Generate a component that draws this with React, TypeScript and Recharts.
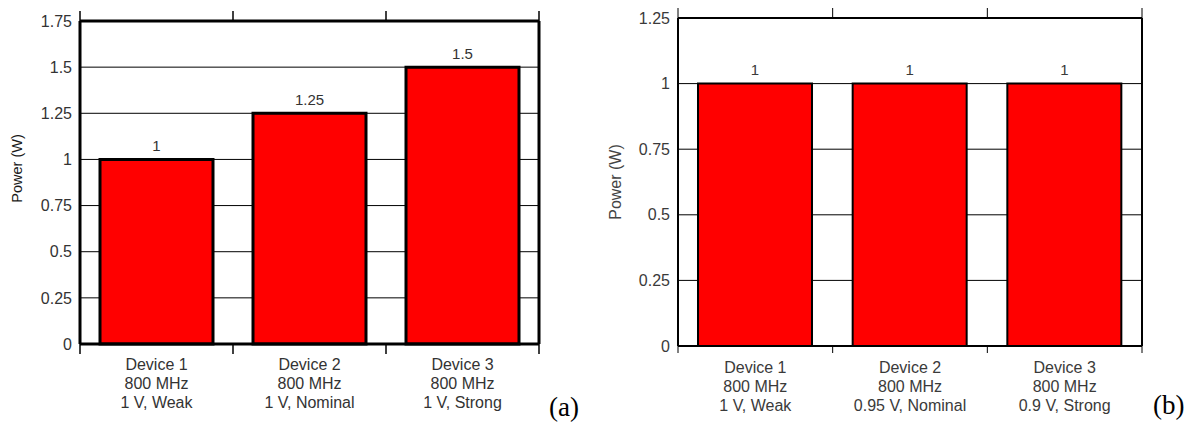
import React from 'react';
import { BarChart, Bar, XAxis, YAxis, CartesianGrid, LabelList } from 'recharts';

const devices = ['Device 1', 'Device 2', 'Device 3'];
const frequencies = ['800 MHz', '800 MHz', '800 MHz'];
const conditionsA = ['1 V, Weak', '1 V, Nominal', '1 V, Strong'];
const conditionsB = ['1 V, Weak', '0.95 V, Nominal', '0.9 V, Strong'];
const powerA = [1, 1.25, 1.5];
const powerB = [1, 1, 1];
const yTicksA = [0, 0.25, 0.5, 0.75, 1, 1.25, 1.5, 1.75];
const yTicksB = [0, 0.25, 0.5, 0.75, 1, 1.25];
const panelLabels = ['(a)', '(b)'];
const yLabel = 'Power (W)';

const buildData = (conds: string[], power: number[]) =>
  devices.map((d, i) => ({ pos: i + 0.5, device: d, freq: frequencies[i], cond: conds[i], power: power[i] }));

const dataA = buildData(conditionsA, powerA);
const dataB = buildData(conditionsB, powerB);

const n = devices.length;
const bottomTicks: number[] = [];
for (let k = 0; k <= 2 * n; k++) bottomTicks.push(k / 2);
const boundaryTicks: number[] = [];
for (let k = 0; k <= n; k++) boundaryTicks.push(k);

const FONT = "'Liberation Sans', Arial, Helvetica, sans-serif";

const makeBottomTick = (data: any[], tickLen: number, lineWidth: number, color: string, firstDy: number, gap: number) =>
  (props: any) => {
    const { x, y, payload } = props;
    const v = payload.value;
    if (Number.isInteger(v)) {
      return <line x1={x} y1={y} x2={x} y2={y + tickLen} stroke="#000" strokeWidth={lineWidth} />;
    }
    const row = data[Math.floor(v)];
    const lines = [row.device, row.freq, row.cond];
    return (
      <text x={x} y={y} textAnchor="middle" fill={color} fontSize={16} fontFamily={FONT}>
        {lines.map((t, k) => (
          <tspan key={k} x={x} dy={k === 0 ? firstDy : gap}>{t}</tspan>
        ))}
      </text>
    );
  };

const makeYLabel = (xPos: number, shift: number, size: number, color: string) => (props: any) => {
  const vb = props.viewBox || {};
  const cy = (vb.y || 0) + (vb.height || 0) / 2 + shift;
  return (
    <text x={xPos} y={cy} transform={`rotate(-90 ${xPos} ${cy})`} textAnchor="middle" dominantBaseline="central" fill={color} fontSize={size} fontFamily={FONT}>
      {yLabel}
    </text>
  );
};

interface PanelProps {
  data: any[];
  ticks: number[];
  width: number;
  height: number;
  left: number;
  yAxisWidth: number;
  rightWidth: number;
  topHeight: number;
  bottomHeight: number;
  frameWidth: number;
  barStroke: number;
  barSize: number;
  textColor: string;
  tickLenTop: number;
  tickLenBottom: number;
  tickLineWidth: number;
  firstDy: number;
  gap: number;
  labelOffset: number;
  yLabelX: number;
  yLabelShift: number;
  yLabelSize: number;
  yLabelColor: string;
}

const Panel = (p: PanelProps) => {
  const max = p.ticks[p.ticks.length - 1];
  return (
    <div style={{ position: 'absolute', left: p.left, top: 0 }}>
      <BarChart width={p.width} height={p.height} data={p.data} margin={{ top: 0, right: 0, bottom: 0, left: 0 }}>
        <CartesianGrid horizontal vertical={false} stroke="#000" strokeWidth={1} strokeOpacity={1} />
        <XAxis
          dataKey="pos"
          type="number"
          domain={[0, n]}
          ticks={bottomTicks}
          interval={0}
          allowDataOverflow
          height={p.bottomHeight}
          tickSize={0}
          tickMargin={0}
          tickLine={false}
          axisLine={{ stroke: '#000', strokeWidth: p.frameWidth }}
          tick={makeBottomTick(p.data, p.tickLenBottom, p.tickLineWidth, p.textColor, p.firstDy, p.gap)}
        />
        <XAxis
          xAxisId="top"
          orientation="top"
          dataKey="pos"
          type="number"
          domain={[0, n]}
          ticks={boundaryTicks}
          interval={0}
          allowDataOverflow
          height={p.topHeight}
          tickSize={p.tickLenTop}
          tickFormatter={() => ''}
          tickLine={{ stroke: '#000', strokeWidth: p.tickLineWidth }}
          axisLine={{ stroke: '#000', strokeWidth: p.frameWidth }}
        />
        <YAxis
          type="number"
          domain={[0, max]}
          ticks={p.ticks}
          interval={0}
          width={p.yAxisWidth}
          tickLine={false}
          tickSize={6}
          tickMargin={2}
          axisLine={{ stroke: '#000', strokeWidth: p.frameWidth }}
          tick={{ fill: p.textColor, fontSize: 16, fontFamily: FONT }}
          label={{ content: makeYLabel(p.yLabelX, p.yLabelShift, p.yLabelSize, p.yLabelColor) }}
        />
        <YAxis
          yAxisId="right"
          orientation="right"
          type="number"
          domain={[0, max]}
          ticks={p.ticks}
          width={p.rightWidth}
          tick={false}
          tickLine={false}
          axisLine={{ stroke: '#000', strokeWidth: p.frameWidth }}
        />
        <Bar dataKey="power" fill="#ff0000" stroke="#000" strokeWidth={p.barStroke} barSize={p.barSize} isAnimationActive={false}>
          <LabelList dataKey="power" position="top" offset={p.labelOffset} fill={p.textColor} fontSize={15} fontFamily={FONT} />
        </Bar>
      </BarChart>
    </div>
  );
};

const panelLabelStyle: React.CSSProperties = {
  position: 'absolute',
  fontFamily: "'Liberation Serif', 'Times New Roman', serif",
  fontSize: 27,
  lineHeight: 1,
  color: '#000',
};

export default function App() {
  return (
    <div style={{ position: 'absolute', left: 0, top: 0, width: 1195, height: 423, background: '#fff', fontFamily: FONT }}>
      <Panel
        data={dataA}
        ticks={yTicksA}
        width={590}
        height={423}
        left={0}
        yAxisWidth={80}
        rightWidth={51}
        topHeight={21}
        bottomHeight={79}
        frameWidth={3}
        barStroke={3}
        barSize={113}
        textColor="#333"
        tickLenTop={10}
        tickLenBottom={10}
        tickLineWidth={1.5}
        firstDy={26}
        gap={19}
        labelOffset={8}
        yLabelX={17}
        yLabelShift={-14}
        yLabelSize={14.5}
        yLabelColor="#1a1a1a"
      />
      <Panel
        data={dataB}
        ticks={yTicksB}
        width={605}
        height={423}
        left={590}
        yAxisWidth={88}
        rightWidth={53}
        topHeight={18}
        bottomHeight={77}
        frameWidth={2}
        barStroke={2}
        barSize={114}
        textColor="#3a3a3a"
        tickLenTop={10}
        tickLenBottom={7}
        tickLineWidth={1}
        firstDy={27}
        gap={19}
        labelOffset={9}
        yLabelX={25}
        yLabelShift={0}
        yLabelSize={16}
        yLabelColor="#444"
      />
      <div style={{ ...panelLabelStyle, left: 549, top: 394 }}>{panelLabels[0]}</div>
      <div style={{ ...panelLabelStyle, left: 1153, top: 392 }}>{panelLabels[1]}</div>
    </div>
  );
}
